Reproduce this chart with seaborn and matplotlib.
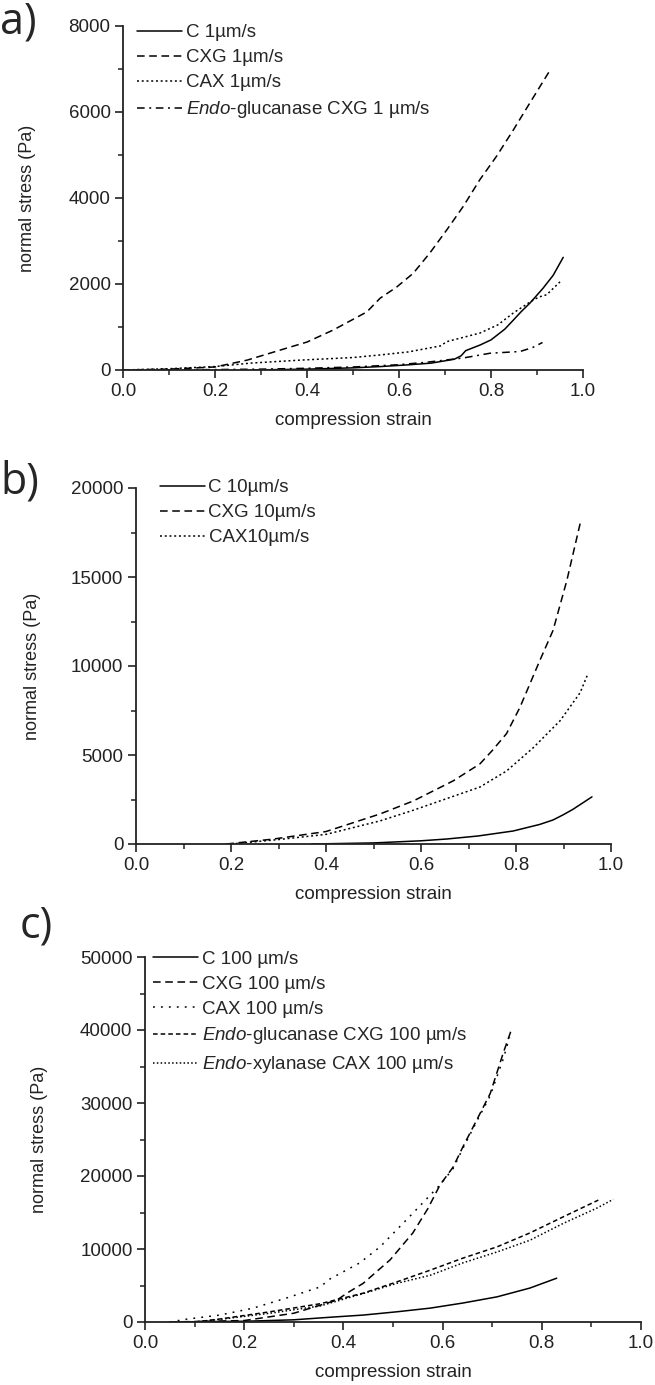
import matplotlib
matplotlib.use("Agg")
import matplotlib.pyplot as plt
from matplotlib.ticker import MultipleLocator
import seaborn as sns

# ---- panel a (1 um/s) ----
a_c_x = [0.28, 0.40, 0.50, 0.56, 0.62, 0.67, 0.72, 0.735, 0.745, 0.776, 0.80, 0.83, 0.849, 0.865, 0.885, 0.913, 0.935, 0.957]
a_c_y = [0, 20, 50, 80, 120, 160, 250, 330, 450, 580, 700, 950, 1165, 1350, 1560, 1900, 2200, 2620]
a_cxg_x = [0.0, 0.1, 0.2, 0.27, 0.35, 0.40, 0.457, 0.53, 0.559, 0.595, 0.631, 0.667, 0.704, 0.74, 0.776, 0.812, 0.849, 0.885, 0.93]
a_cxg_y = [0, 20, 70, 230, 490, 650, 930, 1350, 1670, 1930, 2250, 2720, 3260, 3810, 4430, 4970, 5590, 6220, 7000]
a_cax_x = [0.0, 0.1, 0.2, 0.277, 0.386, 0.5, 0.559, 0.62, 0.69, 0.704, 0.776, 0.815, 0.849, 0.892, 0.905, 0.921, 0.95]
a_cax_y = [0, 30, 80, 160, 230, 290, 350, 420, 560, 660, 860, 1050, 1330, 1630, 1700, 1750, 2050]
a_endo_x = [0.05, 0.2, 0.3, 0.4, 0.5, 0.595, 0.66, 0.70, 0.74, 0.798, 0.863, 0.89, 0.912]
a_endo_y = [0, 10, 20, 40, 70, 120, 180, 230, 280, 390, 430, 520, 640]

# ---- panel b (10 um/s) ----
b_c_x = [0.37, 0.5, 0.6, 0.654, 0.72, 0.794, 0.85, 0.878, 0.90, 0.92, 0.94, 0.96]
b_c_y = [0, 60, 180, 280, 450, 730, 1100, 1350, 1650, 1950, 2300, 2650]
b_cxg_x = [0.19, 0.287, 0.40, 0.514, 0.584, 0.668, 0.724, 0.75, 0.78, 0.808, 0.85, 0.878, 0.907, 0.935]
b_cxg_y = [0, 270, 700, 1690, 2420, 3550, 4500, 5250, 6200, 7660, 10300, 12000, 14800, 18000]
b_cax_x = [0.2, 0.3, 0.4, 0.514, 0.584, 0.654, 0.724, 0.78, 0.836, 0.893, 0.935, 0.952]
b_cax_y = [0, 250, 540, 1300, 1900, 2550, 3200, 4100, 5400, 6930, 8500, 9600]

# ---- panel c (100 um/s) ----
c_c_x = [0.05, 0.2, 0.3, 0.373, 0.44, 0.508, 0.575, 0.641, 0.71, 0.776, 0.83]
c_c_y = [0, 100, 300, 650, 950, 1400, 1900, 2600, 3450, 4650, 6000]
c_cxg_x = [0.05, 0.2, 0.3, 0.387, 0.407, 0.44, 0.494, 0.54, 0.57, 0.595, 0.621, 0.641, 0.669, 0.696, 0.722, 0.74]
c_cxg_y = [0, 200, 1200, 3000, 3950, 5300, 8500, 12200, 15500, 18800, 21200, 24000, 27700, 31300, 36800, 40300]
c_cax_x = [0.05, 0.085, 0.151, 0.218, 0.286, 0.353, 0.373, 0.433, 0.474, 0.54, 0.595, 0.621, 0.641, 0.669, 0.696, 0.722, 0.735]
c_cax_y = [0, 400, 950, 1900, 3300, 4800, 5900, 8100, 10300, 14900, 18800, 21000, 23800, 27500, 31000, 36000, 39000]
c_eg_x = [0.1, 0.15, 0.252, 0.353, 0.44, 0.508, 0.575, 0.641, 0.71, 0.776, 0.843, 0.914]
c_eg_y = [0, 400, 1400, 2500, 3950, 5500, 7100, 8750, 10300, 12200, 14400, 16700]
c_ex_x = [0.1, 0.15, 0.252, 0.353, 0.44, 0.508, 0.575, 0.641, 0.71, 0.776, 0.843, 0.911, 0.944]
c_ex_y = [0, 350, 1200, 2200, 3900, 5300, 6400, 8100, 9600, 11200, 13500, 15600, 16800]

sns.set_theme(style="ticks")
plt.rcParams['font.family'] = ['Liberation Sans', 'DejaVu Sans']
plt.rcParams['mathtext.fontset'] = 'custom'
plt.rcParams['mathtext.rm'] = 'Liberation Sans'
plt.rcParams['mathtext.it'] = 'Liberation Sans:italic'

solid = '-'
dashed = (0, (5, 3))
dotted = (0, (1.3, 1.8))
dashdot = (0, (5, 3, 1.3, 3))
shortdash = (0, (3, 2))
sparsedot = (0, (1.2, 4))
densedot = (0, (1, 1.5))

FS = 13.5

panels = [
    dict(rect=[123/655, 1-370/1385, 460/655, 344/1385], ymax=8000, ymaj=2000,
         series=[(a_c_x, a_c_y, solid, "C 1µm/s"),
                 (a_cxg_x, a_cxg_y, dashed, "CXG 1µm/s"),
                 (a_cax_x, a_cax_y, dotted, "CAX 1µm/s"),
                 (a_endo_x, a_endo_y, dashdot, r"$\it{Endo}$-glucanase CXG 1 µm/s")],
         leg=(0.03, 1.005), ylab_x=-0.19, letter="a)", lpos=(0, 1.0)),
    dict(rect=[136/655, 1-844/1385, 475/655, 356/1385], ymax=20000, ymaj=5000,
         series=[(b_c_x, b_c_y, solid, "C 10µm/s"),
                 (b_cxg_x, b_cxg_y, dashed, "CXG 10µm/s"),
                 (b_cax_x, b_cax_y, dotted, "CAX10µm/s")],
         leg=(0.05, 1.025), ylab_x=-0.20, letter="b)", lpos=(0, 1-460/1385)),
    dict(rect=[145/655, 1-1322/1385, 496/655, 365/1385], ymax=50000, ymaj=10000,
         series=[(c_c_x, c_c_y, solid, "C 100 µm/s"),
                 (c_cxg_x, c_cxg_y, dashed, "CXG 100 µm/s"),
                 (c_cax_x, c_cax_y, sparsedot, "CAX 100 µm/s"),
                 (c_eg_x, c_eg_y, shortdash, r"$\it{Endo}$-glucanase CXG 100 µm/s"),
                 (c_ex_x, c_ex_y, densedot, r"$\it{Endo}$-xylanase CAX 100 µm/s")],
         leg=(0.016, 1.018), ylab_x=-0.196, letter="c)", lpos=(20/655, 1-904/1385)),
]

fig = plt.figure(figsize=(6.55, 13.85), dpi=100)

for p in panels:
    ax = fig.add_axes(p['rect'])
    for xs, ys, ls, lab in p['series']:
        sns.lineplot(x=xs, y=ys, ax=ax, color='black', lw=1.1, linestyle=ls,
                     label=lab, sort=False, estimator=None)
    ax.set_xlim(0, 1.0)
    ax.set_ylim(0, p['ymax'])
    ax.xaxis.set_major_locator(MultipleLocator(0.2))
    ax.xaxis.set_minor_locator(MultipleLocator(0.1))
    ax.yaxis.set_major_locator(MultipleLocator(p['ymaj']))
    ax.yaxis.set_minor_locator(MultipleLocator(p['ymaj'] / 2))
    ax.tick_params(which='major', direction='out', length=6, width=1.2, labelsize=FS,
                   colors='#222222', pad=3)
    ax.tick_params(which='minor', direction='out', length=3.5, width=1.1, colors='#222222')
    for s in ['left', 'bottom']:
        ax.spines[s].set_linewidth(1.3)
        ax.spines[s].set_color('#222222')
    sns.despine(ax=ax)
    ax.set_xlabel("compression strain", fontsize=FS, color='#222222', labelpad=9)
    ax.set_ylabel("normal stress (Pa)", fontsize=13, color='#222222')
    ax.yaxis.set_label_coords(p['ylab_x'], 0.5)
    ax.legend(loc='upper left', bbox_to_anchor=p['leg'], frameon=False, fontsize=FS,
              borderpad=0, borderaxespad=0, handlelength=2.4, handletextpad=0.2,
              labelspacing=0.42)
    fig.text(p['lpos'][0], p['lpos'][1], p['letter'], fontsize=31, family='Open Sans',
             ha='left', va='top')

fig.savefig("out.png", dpi=100)
